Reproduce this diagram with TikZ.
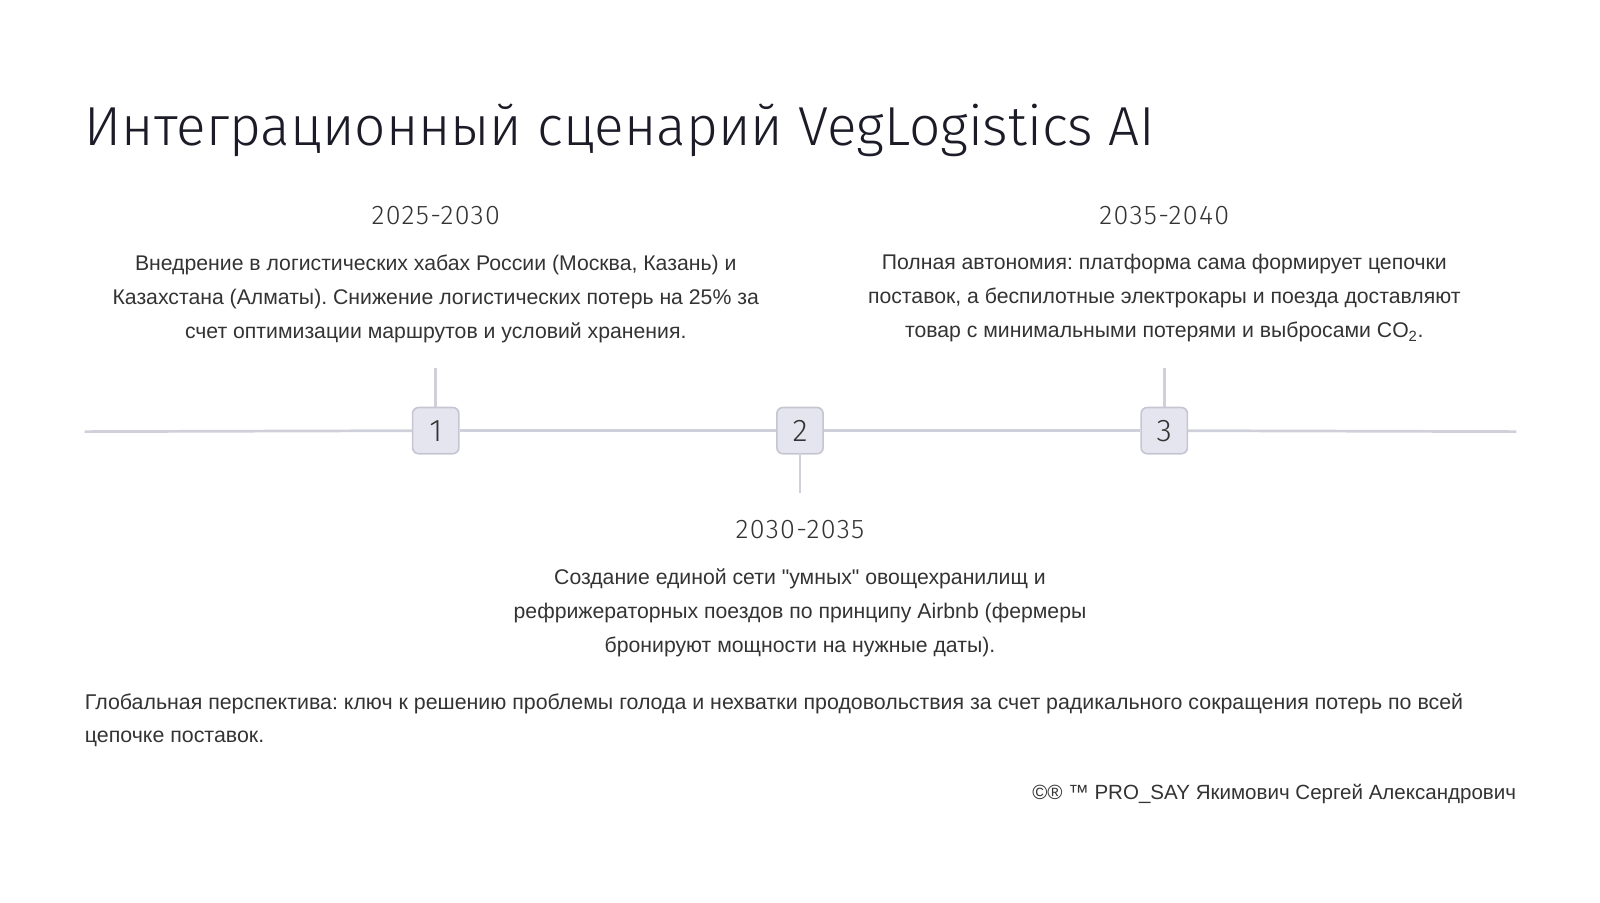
\documentclass[tikz,border=0pt]{standalone}
\usepackage{fontspec}
\setmainfont{Liberation Sans}
\newfontfamily\headfont{Fira Sans Light}
\newfontfamily\yearfont{Fira Sans Light}[LetterSpace=5]
\newfontfamily\quotefont{Liberation Sans}
\newcommand\qt{{\quotefont\symbol{"22}}}
\usetikzlibrary{positioning,graphs}
\frenchspacing

\definecolor{ink}{HTML}{333333}
\definecolor{headink}{HTML}{1C1C28}
\definecolor{axis}{HTML}{CFD0DA}
\definecolor{boxfill}{HTML}{E4E5EF}
\definecolor{boxdraw}{HTML}{C5C6D2}

\begin{document}
\begin{tikzpicture}
	% Styles
	[
	x=0.75pt, y=-0.75pt,
	heading/.style={anchor=base west, inner sep=0pt, text=headink, font=\headfont\fontsize{40.4pt}{48pt}\selectfont},
	year/.style={inner sep=0pt, text=ink, font=\yearfont\fontsize{19.8pt}{22pt}\selectfont},
	desc/.style={inner sep=0pt, align=center, text=ink, font=\fontsize{15.6pt}{25pt}\selectfont},
	marker/.style={rectangle, rounded corners=4.5pt, minimum size=34pt, draw=boxdraw, line width=1.2pt, fill=boxfill, text=ink, font=\headfont\fontsize{23pt}{26pt}\selectfont},
	note/.style={inner sep=0pt, align=left, text=ink, font=\fontsize{15.7pt}{24pt}\selectfont},
	axisline/.style={draw=axis, line width=2pt}
	]

	\useasboundingbox (0,0) rectangle (1568,884);

	% Title
	\node at (83,143) (title) [heading] {Интеграционный сценарий VegLogistics AI};

	% Nodes
	\coordinate (lstart) at (83,423);
	\coordinate (lend) at (1486,423);
	\node at (427,422) (m1) [marker] {1};
	\node at (784,422) (m2) [marker] {2};
	\node at (1141,422) (m3) [marker] {3};
	\coordinate (s1) at (427,361);
	\coordinate (s2) at (784,483);
	\coordinate (s3) at (1141,361);

	\node at (427,211) (y1) [year] {2025-2030};
	\node at (784,519) (y2) [year] {2030-2035};
	\node at (1141,211) (y3) [year] {2035-2040};

	\node at (427,292.5) (d1) [desc] {Внедрение в логистических хабах России (Москва, Казань) и\\
		Казахстана (Алматы). Снижение логистических потерь на 25\% за\\
		счет оптимизации маршрутов и условий хранения.};
	\node at (784,601) (d2) [desc] {Создание единой сети \qt умных\qt{} овощехранилищ и\\
		рефрижераторных поездов по принципу Airbnb (фермеры\\
		бронируют мощности на нужные даты).};
	\node at (1141,292.5) (d3) [desc] {Полная автономия: платформа сама формирует цепочки\\
		поставок, а беспилотные электрокары и поезда доставляют\\
		товар с минимальными потерями и выбросами CO\textsubscript{2}.};

	\node at (83,706) (global) [note, anchor=west] {Глобальная перспектива: ключ к решению проблемы голода и нехватки продовольствия за счет радикального сокращения потерь по всей\\
		цепочке поставок.};
	\node at (1486,778) (sign) [note, anchor=east, font=\fontsize{15.1pt}{24pt}\selectfont] {©® ™ PRO\_SAY Якимович Сергей Александрович};

	% Connections
	\graph[use existing nodes, edges={axisline}] {
		lstart -- m1 -- m2 -- m3 -- lend;
		m1 -- s1;
		m2 -- s2;
		m3 -- s3;
	};

\end{tikzpicture}
\end{document}
